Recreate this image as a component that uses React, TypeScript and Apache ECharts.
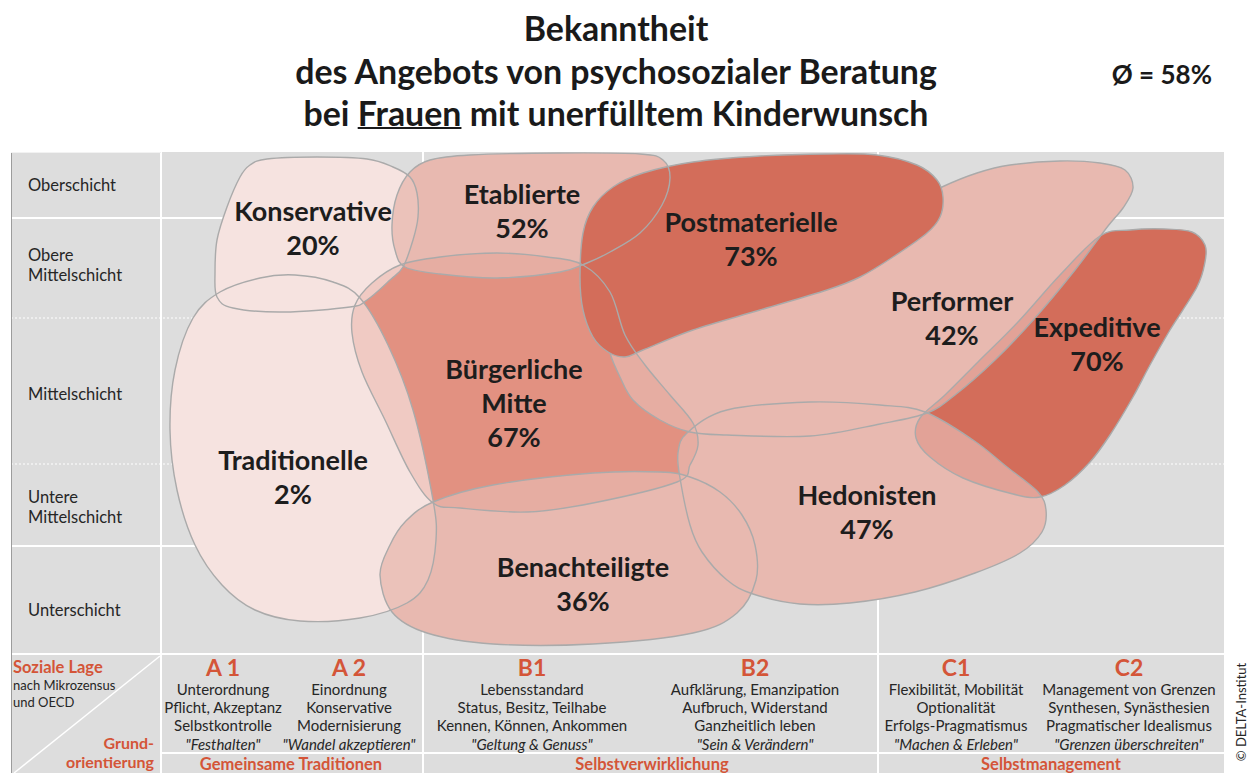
import React, { useEffect, useRef } from 'react';
import * as echarts from 'echarts';

// ---------- data ----------
const titleLines = ['Bekanntheit', 'des Angebots von psychosozialer Beratung', 'bei Frauen mit unerfülltem Kinderwunsch'];
const underlinedWord = 'Frauen';
const averageLabel = 'Ø = 58%';

const milieus = ['Konservative', 'Etablierte', 'Postmaterielle', 'Performer', 'Expeditive', 'Bürgerliche\nMitte', 'Traditionelle', 'Hedonisten', 'Benachteiligte'];
const awareness = [20, 52, 73, 42, 70, 67, 2, 47, 36];

const socialClasses = ['Oberschicht', 'Obere\nMittelschicht', 'Mittelschicht', 'Untere\nMittelschicht', 'Unterschicht'];
const orientationCodes = ['A 1', 'A 2', 'B1', 'B2', 'C1', 'C2'];
const orientationLines = [
  ['Unterordnung', 'Pflicht, Akzeptanz', 'Selbstkontrolle', '"Festhalten"'],
  ['Einordnung', 'Konservative', 'Modernisierung', '"Wandel akzeptieren"'],
  ['Lebensstandard', 'Status, Besitz, Teilhabe', 'Kennen, Können, Ankommen', '"Geltung & Genuss"'],
  ['Aufklärung, Emanzipation', 'Aufbruch, Widerstand', 'Ganzheitlich leben', '"Sein & Verändern"'],
  ['Flexibilität, Mobilität', 'Optionalität', 'Erfolgs-Pragmatismus', '"Machen & Erleben"'],
  ['Management von Grenzen', 'Synthesen, Synästhesien', 'Pragmatischer Idealismus', '"Grenzen überschreiten"'],
];
const orientationGroups = ['Gemeinsame Traditionen', 'Selbstverwirklichung', 'Selbstmanagement'];
const axisTitleSocial = ['Soziale Lage', 'nach Mikrozensus\nund OECD'];
const axisTitleOrientation = 'Grund-\norientierung';
const copyright = '© DELTA-Institut';

// colour scale of awareness (%)
const awarenessBands = [
  { lt: 30, color: '#f6e3e0' },
  { gte: 30, lt: 60, color: '#e8b9b0' },
  { gte: 60, lt: 70, color: '#e29181' },
  { gte: 70, color: '#d36d5a' },
];

// ---------- map geometry (map units: x 0..1064 across orientation, y 0..503 from top) ----------
const outlines: number[][][] = [
  // Konservative
  [[89, 13], [106, 7], [156, 5], [206, 7], [232, 15], [249, 25], [256, 41], [257, 65], [252, 88], [242, 115], [229, 128], [206, 148], [189, 155], [122, 160], [72, 156], [56, 145], [54, 121], [56, 88], [66, 55], [79, 25]],
  // Etablierte
  [[269, 8], [309, 3], [399, 1], [479, 2], [502, 8], [509, 26], [501, 53], [479, 81], [449, 100], [426, 111], [399, 120], [336, 126], [279, 122], [244, 115], [234, 98], [231, 73], [236, 43], [249, 20]],
  // Postmaterielle
  [[419, 125], [422, 81], [432, 55], [452, 35], [482, 21], [532, 10], [599, 4], [666, 2], [716, 3], [756, 13], [776, 28], [782, 45], [779, 65], [766, 81], [732, 105], [699, 125], [666, 138], [599, 158], [532, 178], [482, 198], [464, 205], [447, 200], [432, 185], [422, 158]],
  // Performer
  [[446, 178], [489, 150], [559, 123], [639, 96], [719, 66], [781, 35], [816, 21], [849, 13], [899, 9], [939, 11], [964, 18], [972, 36], [962, 56], [947, 74], [914, 118], [874, 166], [834, 208], [794, 243], [766, 261], [719, 272], [649, 284], [566, 283], [529, 280], [499, 268], [472, 248], [459, 225], [449, 201]],
  // Expeditive
  [[939, 84], [969, 78], [1004, 77], [1031, 80], [1044, 93], [1044, 110], [1036, 135], [1009, 178], [989, 213], [972, 245], [949, 283], [929, 310], [904, 333], [879, 345], [852, 342], [802, 326], [769, 305], [755, 286], [759, 266], [784, 243], [817, 210], [857, 170], [899, 123]],
  // Bürgerliche Mitte
  [[239, 113], [279, 105], [336, 101], [386, 105], [422, 113], [449, 140], [464, 183], [484, 213], [509, 243], [532, 271], [537, 293], [529, 313], [516, 330], [432, 351], [366, 360], [299, 356], [272, 351], [249, 320], [224, 268], [201, 220], [191, 181], [194, 153], [211, 131]],
  // Traditionelle
  [[199, 146], [227, 193], [252, 258], [272, 348], [275, 388], [267, 428], [246, 451], [199, 466], [139, 469], [94, 458], [61, 433], [34, 393], [16, 338], [9, 278], [14, 218], [32, 166], [59, 140], [99, 126], [134, 123], [172, 130]],
  // Hedonisten
  [[526, 281], [566, 258], [649, 250], [719, 253], [764, 260], [812, 288], [846, 315], [877, 340], [885, 358], [881, 380], [859, 401], [814, 421], [754, 440], [689, 451], [639, 452], [592, 442], [566, 428], [541, 400], [529, 373], [519, 326], [517, 301]],
  // Benachteiligte
  [[272, 350], [332, 333], [432, 321], [499, 320], [529, 325], [559, 340], [581, 363], [594, 393], [595, 428], [576, 461], [532, 481], [432, 492], [332, 492], [266, 481], [231, 460], [219, 423], [229, 393], [244, 370]],
];
const labelAnchors = [[152, 75], [361, 58], [590, 86], [791, 165], [936, 191], [353, 250], [132, 324], [706, 359], [422, 431]];
const topMilieu = 'Postmaterielle';
const tuckedUnderTop = ['Performer'];

// ---------- layout ----------
const W = 1255, H = 773;
const FONT = "Lato, 'Open Sans', sans-serif";
const RED = '#d45538';
const DARK = '#262626';
const rowEdges = [152, 218, 318, 464, 546, 654];
const rowSolid = [false, true, false, false, true, true];
const rowLabelY = [185, 265, 394, 507, 610];
const colCenters = [223, 349, 532, 755, 956, 1129];
const groupCenters = [291, 652, 1051];

function smoothClosed(pts: number[][]): string {
  const n = pts.length;
  let d = `M${pts[0][0].toFixed(2)},${pts[0][1].toFixed(2)}`;
  for (let i = 0; i < n; i++) {
    const p0 = pts[(i - 1 + n) % n], p1 = pts[i], p2 = pts[(i + 1) % n], p3 = pts[(i + 2) % n];
    const c1x = p1[0] + (p2[0] - p0[0]) / 6, c1y = p1[1] + (p2[1] - p0[1]) / 6;
    const c2x = p2[0] - (p3[0] - p1[0]) / 6, c2y = p2[1] - (p3[1] - p1[1]) / 6;
    d += ` C${c1x.toFixed(2)},${c1y.toFixed(2)} ${c2x.toFixed(2)},${c2y.toFixed(2)} ${p2[0].toFixed(2)},${p2[1].toFixed(2)}`;
  }
  return d + ' Z';
}

function measure(text: string, font: string): number {
  const c = document.createElement('canvas').getContext('2d');
  if (!c) return text.length * 14;
  c.font = font;
  return c.measureText(text).width;
}

function txt(text: string, x: number, y: number, opts: any = {}) {
  const align = opts.align || 'center';
  const va = opts.va || 'middle';
  return {
    type: 'text', x, y, z: 10, rotation: opts.rotation || 0,
    style: {
      text, fill: opts.fill || DARK,
      font: `${opts.style || 'normal'} ${opts.weight || 'normal'} ${opts.size || 14}px ${FONT}`,
      align, textAlign: align, verticalAlign: va, textVerticalAlign: va,
      lineHeight: opts.lineHeight,
    },
  };
}

function buildGraphic() {
  const els: any[] = [];
  els.push({ type: 'rect', z: 0, shape: { x: 11, y: 152, width: 1213, height: H - 152 }, style: { fill: '#dddddd' } });
  rowEdges.forEach((y, i) => {
    if (i === 0) return;
    els.push({
      type: 'line', z: 1, shape: { x1: 11, y1: y, x2: 1224, y2: y },
      style: rowSolid[i] ? { stroke: '#ffffff', lineWidth: 2 } : { stroke: '#ffffff', lineWidth: 1, lineDash: [2, 2] },
    });
  });
  els.push({ type: 'line', z: 1, shape: { x1: 161, y1: 753, x2: 1224, y2: 753 }, style: { stroke: '#ffffff', lineWidth: 2 } });
  [161, 423, 878].forEach((x) => {
    els.push({ type: 'line', z: 1, shape: { x1: x, y1: 152, x2: x, y2: H }, style: { stroke: '#ffffff', lineWidth: 2 } });
  });
  els.push({ type: 'line', z: 1, shape: { x1: 160, y1: 656, x2: 14, y2: H }, style: { stroke: '#ffffff', lineWidth: 1.5 } });
  els.push({ type: 'line', z: 1, shape: { x1: 11.5, y1: 152, x2: 11.5, y2: H }, style: { stroke: '#9c9c9c', lineWidth: 1 } });
  els.push({ type: 'line', z: 1, shape: { x1: 11, y1: 152.5, x2: 161, y2: 152.5 }, style: { stroke: '#f2f2f2', lineWidth: 1 } });

  socialClasses.forEach((s, i) => {
    els.push(txt(s, 28, rowLabelY[i], { align: 'left', size: 16.5, lineHeight: 20 }));
  });

  // title, fitted to the reference width of its longest line
  const baseSize = 28;
  const fit = 645 / measure(titleLines[1], `bold ${baseSize}px ${FONT}`);
  const titleSize = Math.round(baseSize * fit * 10) / 10;
  const titleFont = `bold ${titleSize}px ${FONT}`;
  const titleY = [28, 71, 113];
  titleLines.forEach((t, i) => els.push(txt(t, 616, titleY[i], { size: titleSize, weight: 'bold', fill: '#1a1a1a' })));
  const line3 = titleLines[2];
  const idx = line3.indexOf(underlinedWord);
  const fullW = measure(line3, titleFont);
  const preW = measure(line3.slice(0, idx), titleFont);
  const wordW = measure(underlinedWord, titleFont);
  const ux = 616 - fullW / 2 + preW;
  els.push({ type: 'line', z: 10, shape: { x1: ux, y1: 128, x2: ux + wordW, y2: 128 }, style: { stroke: '#1a1a1a', lineWidth: 2 } });
  els.push(txt(averageLabel, 1212, 74, { align: 'right', size: 26, weight: 'bold', fill: '#1a1a1a' }));

  // bottom axis
  els.push(txt(axisTitleSocial[0], 13, 667, { align: 'left', size: 16.5, weight: 'bold', fill: RED }));
  els.push(txt(axisTitleSocial[1], 13, 693, { align: 'left', size: 13, lineHeight: 17 }));
  els.push(txt(axisTitleOrientation, 154, 752, { align: 'right', size: 16, weight: 'bold', fill: RED, lineHeight: 19 }));
  orientationCodes.forEach((c, i) => {
    els.push(txt(c, colCenters[i], 667, { size: 23, weight: 'bold', fill: RED }));
    orientationLines[i].forEach((l, j) => {
      els.push(txt(l, colCenters[i], 689 + j * 18.2, { size: 15, style: j === 3 ? 'italic' : 'normal' }));
    });
  });
  orientationGroups.forEach((g, i) => els.push(txt(g, groupCenters[i], 764, { size: 16.5, weight: 'bold', fill: RED })));
  els.push(txt(copyright, 1241, 712, { size: 13, rotation: Math.PI / 2 }));
  return els;
}

export default function App() {
  const ref = useRef<HTMLDivElement>(null);
  useEffect(() => {
    if (!ref.current) return;
    const chart = echarts.init(ref.current, undefined, { renderer: 'svg' });
    const option: any = {
      animation: false,
      backgroundColor: '#ffffff',
      grid: { left: 161, top: 152, width: 1064, height: 503 },
      xAxis: { type: 'value', min: 0, max: 1064, show: false },
      yAxis: { type: 'value', min: 0, max: 503, inverse: true, show: false },
      visualMap: { type: 'piecewise', show: false, dimension: 1, seriesIndex: 0, pieces: awarenessBands },
      graphic: buildGraphic(),
      series: [
        {
          type: 'custom',
          silent: true,
          coordinateSystem: 'cartesian2d',
          data: milieus.map((_, i) => [i, awareness[i]]),
          renderItem: (params: any, api: any) => {
            const i = api.value(0) as number;
            const pct = api.value(1) as number;
            const name = milieus[i];
            const color = api.visual('color');
            const pts = outlines[i].map((p) => api.coord(p));
            const d = smoothClosed(pts);
            const isTop = name === topMilieu;
            const isMid = pct >= 60 && !isTop;
            const children: any[] = [];
            children.push({ type: 'path', shape: { pathData: d }, style: { fill: color }, z2: isTop ? 30 : isMid ? 10 : 1 });
            if (!isTop && !isMid) {
              children.push({ type: 'path', shape: { pathData: d }, style: { fill: color, opacity: 0.7 }, z2: 20 });
            }
            children.push({
              type: 'path', shape: { pathData: d },
              style: { fill: 'none', stroke: '#aaaaaa', lineWidth: 1.4 },
              z2: tuckedUnderTop.includes(name) ? 25 : 40,
            });
            const c = api.coord(labelAnchors[i]);
            children.push({
              type: 'text', x: c[0], y: c[1], z2: 50,
              style: {
                text: `${name}\n${pct}%`, fill: '#1d1d1d', font: `bold 27px ${FONT}`,
                align: 'center', verticalAlign: 'middle', lineHeight: 34,
              },
            });
            return { type: 'group', children };
          },
        },
      ],
    };
    chart.setOption(option);
    return () => chart.dispose();
  }, []);
  return <div ref={ref} style={{ position: 'fixed', left: 0, top: 0, width: W, height: H }} />;
}
